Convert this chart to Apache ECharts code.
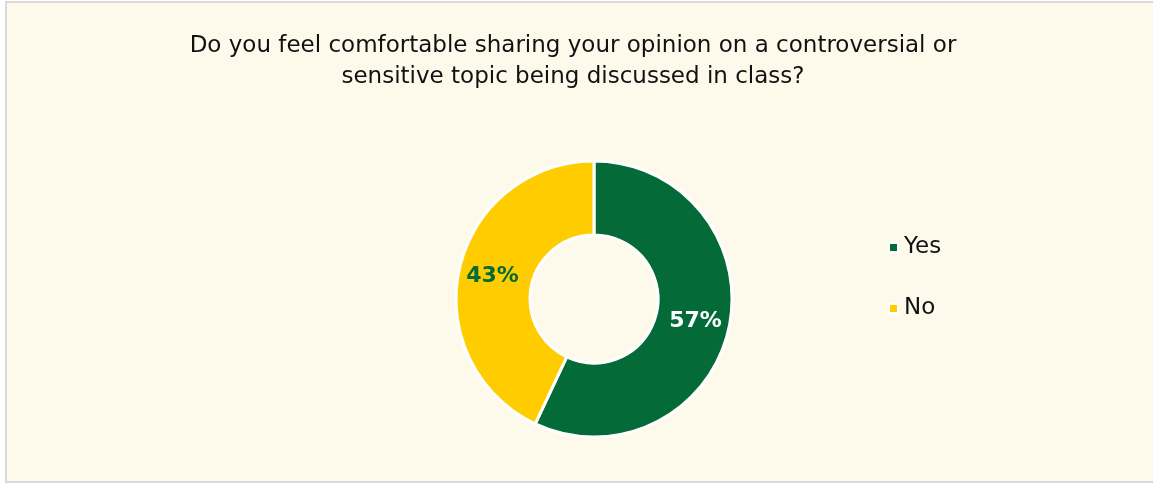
<!DOCTYPE html>
<html>
<head>
<meta charset="utf-8">
<script src="https://cdn.jsdelivr.net/npm/echarts@6/dist/echarts.min.js"></script>
<style>
  html, body { margin: 0; padding: 0; background: #ffffff; }
  #frame {
    position: absolute; left: 5px; top: 1px; width: 1150px; height: 478px;
    background: #fefaeb;
    border-top: 2px solid #d9d9d9; border-left: 2px solid #d9d9d9; border-bottom: 2px solid #d9d9d9;
  }
  #chart { position: absolute; left: 0; top: 0; width: 1153px; height: 483px; }
</style>
</head>
<body>
<div id="frame"></div>
<div id="chart"></div>
<script>
const titleText = 'Do you feel comfortable sharing your opinion on a controversial or\nsensitive topic being discussed in class?';
const categories = ['Yes', 'No'];
const values = [57, 43];
const colors = ['#036a38', '#ffcc00'];
const labelColors = ['#ffffff', '#036a38'];

const FONT = '"DejaVu Sans", "Noto Sans", sans-serif';

const chart = echarts.init(document.getElementById('chart'), null, { renderer: 'canvas' });
chart.setOption({
  backgroundColor: 'transparent',
  title: {
    text: titleText,
    left: 568,
    textAlign: 'center',
    top: 26,
    textStyle: { fontFamily: FONT, fontSize: 23, fontWeight: 'normal', color: '#111111', lineHeight: 31 }
  },
  legend: {
    orient: 'vertical',
    left: 883,
    top: 231,
    itemWidth: 9,
    itemHeight: 9,
    itemGap: 38,
    icon: 'rect',
    data: categories,
    textStyle: { fontFamily: FONT, fontSize: 23, color: '#111111', padding: [0, 0, 0, 1] }
  },
  series: [{
    type: 'pie',
    center: [594, 299],
    radius: [64, 138],
    startAngle: 90,
    clockwise: true,
    avoidLabelOverlap: false,
    itemStyle: { borderColor: '#ffffff', borderWidth: 3 },
    label: {
      show: true,
      position: 'inner',
      formatter: '{c}%',
      fontFamily: FONT,
      fontSize: 22,
      fontWeight: 'bold'
    },
    labelLine: { show: false },
    emphasis: { disabled: true },
    data: categories.map((c, i) => ({
      name: c,
      value: values[i],
      itemStyle: { color: colors[i] },
      label: { color: labelColors[i] }
    }))
  }]
});
</script>
</body>
</html>
